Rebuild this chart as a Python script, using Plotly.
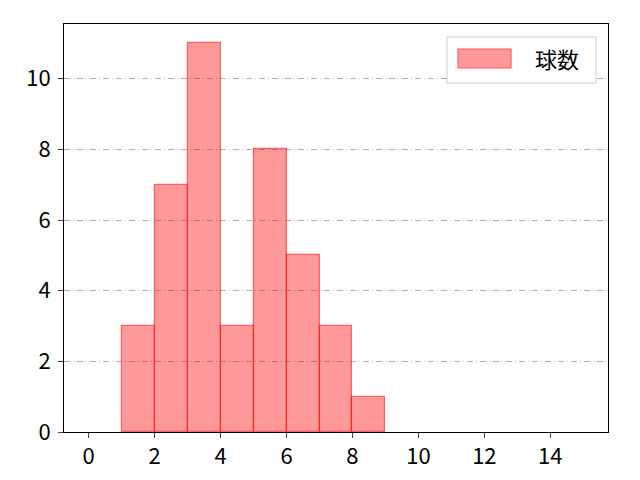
import plotly.graph_objects as go

# ヒストグラムのビン（左端）と度数
bin_left = [1, 2, 3, 4, 5, 6, 7, 8]
counts = [3, 7, 11, 3, 8, 5, 3, 1]
series_name = "球数"

x_ticks = [0, 2, 4, 6, 8, 10, 12, 14]
y_ticks = [0, 2, 4, 6, 8, 10]

FONT = "Noto Sans CJK JP, Noto Sans, DejaVu Sans"
BAR_FILL = "rgba(255,0,0,0.4)"
BAR_EDGE = "rgba(255,0,0,0.55)"

fig = go.Figure()
fig.add_trace(go.Bar(
    x=[b + 0.5 for b in bin_left],
    y=counts,
    width=1,
    name=series_name,
    marker=dict(color=BAR_FILL, line=dict(color=BAR_EDGE, width=1.2)),
    showlegend=False,
))

# matplotlib風の凡例（枠・パッチ・テキスト）
fig.add_shape(type="rect", xref="paper", yref="paper",
              x0=0.704, x1=0.978, y0=0.855, y1=0.968,
              fillcolor="white", line=dict(color="#cccccc", width=1), layer="above")
fig.add_shape(type="rect", xref="paper", yref="paper",
              x0=0.724, x1=0.822, y0=0.892, y1=0.939,
              fillcolor=BAR_FILL, line=dict(color=BAR_EDGE, width=1), layer="above")
fig.add_annotation(text=series_name, xref="paper", yref="paper",
                   x=0.862, y=0.917, xanchor="left", yanchor="middle",
                   showarrow=False, font=dict(size=22, color="black"))

# ページのbody余白(8px)を考慮した余白
fig.update_layout(
    width=624, height=464,
    margin=dict(l=56, r=24, t=16, b=40, autoexpand=False),
    paper_bgcolor="white", plot_bgcolor="white",
    font=dict(family=FONT, size=22, color="black"),
    bargap=0,
)
fig.update_xaxes(
    range=[-0.75, 15.75], tickvals=x_ticks, ticks="outside", ticklen=5,
    showline=True, linecolor="black", linewidth=1, mirror=True,
    showgrid=False, zeroline=False, automargin=False,
)
fig.update_yaxes(
    range=[0, 11.55], tickvals=y_ticks, ticks="outside", ticklen=5,
    ticklabelstandoff=3,
    showline=True, linecolor="black", linewidth=1, mirror=True,
    showgrid=True, gridcolor="#b0b0b0", gridwidth=1, griddash="6px,3px,1px,3px",
    zeroline=False, automargin=False,
)

fig.write_html("out.html")
